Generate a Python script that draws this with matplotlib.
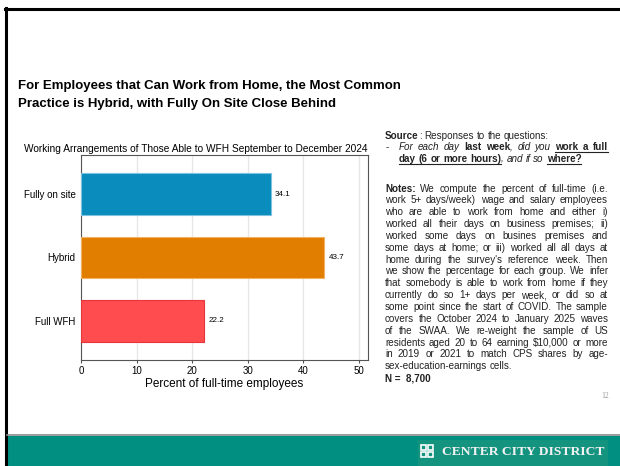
import matplotlib
matplotlib.use("Agg")
import matplotlib.pyplot as plt
from matplotlib.patches import Rectangle
from matplotlib.lines import Line2D

plt.rcParams["font.family"] = ["Liberation Sans", "DejaVu Sans"]

# data
categories = ["Fully on site", "Hybrid", "Full WFH"]
shares = [34.1, 43.7, 22.2]
bar_colors = ["#0A8CBD", "#E17E00", "#FF4D4F"]
edge_colors = ["#7CC3E0", "#F2B266", "#E8353A"]
x_ticks = [0, 10, 20, 30, 40, 50]

title_lines = ["For Employees that Can Work from Home, the Most Common",
               "Practice is Hybrid, with Fully On Site Close Behind"]
chart_title = "Working Arrangements of Those Able to WFH September to December 2024"
x_label = "Percent of full-time employees"

notes_lines = [
    "We compute the percent of full-time (i.e.",
    "work 5+ days/week) wage and salary employees",
    "who are able to work from home and either i)",
    "worked all their days on business premises; ii)",
    "worked some days on busines premises and",
    "some days at home; or iii) worked all all days at",
    "home during the survey's reference week. Then",
    "we show the percentage for each group. We infer",
    "that somebody is able to work from home if they",
    "currently do so 1+ days per week, or did so at",
    "some point since the start of COVID. The sample",
    "covers the October 2024 to January 2025 waves",
    "of the SWAA. We re-weight the sample of US",
    "residents aged 20 to 64 earning \\$10,000 or more",
    "in 2019 or 2021 to match CPS shares by age-",
    "sex-education-earnings cells.",
]

W, H = 620, 466
fig = plt.figure(figsize=(6.2, 4.66), dpi=100)


def fx(px):
    return px / W


def fy(py):
    return 1 - py / H


# slide frame
fig.add_artist(Line2D([fx(5), fx(620)], [fy(9), fy(9)], color="black", lw=2.2))
fig.add_artist(Line2D([fx(6), fx(6)], [fy(8), fy(466)], color="black", lw=2.2))
fig.add_artist(Line2D([fx(7), fx(620)], [fy(435), fy(435)], color="#8a8a8a", lw=1.2))
fig.add_artist(Rectangle((fx(7), 0), 1, fy(436), transform=fig.transFigure,
                         color="#008F80", lw=0))
fig.add_artist(Rectangle((fx(418), 0), fx(190), fy(440), transform=fig.transFigure,
                         color="#14937F", lw=0))
# logo squares
for dx, dy in [(0, 0), (7, 0), (0, 7), (7, 7)]:
    fig.add_artist(Rectangle((fx(421 + dx), fy(457 - dy)), fx(5), 5 / H,
                             transform=fig.transFigure, facecolor="none",
                             edgecolor="white", lw=1.2))
fig.text(fx(442), fy(452), "CENTER CITY DISTRICT", color="#F2F2F2",
         family="Liberation Serif", weight="bold", fontsize=9.7, va="center",
         ha="left")

# main title
fig.text(fx(18), fy(86), title_lines[0], fontsize=9.5, weight="bold", va="center")
fig.text(fx(18), fy(104), title_lines[1], fontsize=9.5, weight="bold", va="center")

# chart
ax = fig.add_axes([fx(81), fy(360), fx(368 - 81), (360 - 155) / H])
ypos = range(len(categories))
ax.barh(ypos, shares, height=0.66, color=bar_colors, edgecolor=edge_colors,
        linewidth=0.8, zorder=3)
for y, v in zip(ypos, shares):
    ax.text(v + 0.8, y, f"{v}", va="center", ha="left", fontsize=5.8)
ax.set_yticks(list(ypos))
ax.set_yticklabels(categories, fontsize=7)
ax.set_ylim(2.62, -0.62)
ax.set_xlim(0, 51.6)
ax.set_xticks(x_ticks)
ax.set_xticklabels([str(t) for t in x_ticks], fontsize=7)
ax.grid(axis="x", color="#e6e6e6", lw=0.9, zorder=0)
ax.tick_params(axis="y", length=0, pad=4)
ax.tick_params(axis="x", length=2.5, pad=2, color="#555555")
for s in ax.spines.values():
    s.set_color("#555555")
    s.set_linewidth(0.8)
ax.set_xlabel(x_label, fontsize=8.5, labelpad=1)
fig.text(fx(196), fy(149), chart_title, fontsize=7.3, ha="center", va="center")

# rich text: words may be built from several styled pieces
fig.canvas.draw()
renderer = fig.canvas.get_renderer()


def draw_line(segments, x0, x1, y, size, justify):
    groups = []
    for text, style in segments:
        tokens = text.split(" ")
        for i, tok in enumerate(tokens):
            if tok == "":
                continue
            if i == 0 and groups:
                groups[-1].append((tok, style))
            else:
                groups.append([(tok, style)])
    arts = []
    for g in groups:
        row = []
        for tok, style in g:
            t = fig.text(0, fy(y), tok, fontsize=size, va="baseline",
                         weight="bold" if "b" in style else "normal",
                         style="italic" if "i" in style else "normal",
                         color="#222222")
            row.append((t, style))
        arts.append(row)
    fig.canvas.draw()
    widths = [[t.get_window_extent(renderer).width for t, _ in row] for row in arts]
    space = size * 100 / 72 * 0.278
    total = sum(sum(w) for w in widths)
    if justify and len(arts) > 1:
        space = (x1 - x0 - total) / (len(arts) - 1)
    x = x0
    prev = ""
    for row, ws in zip(arts, widths):
        for j, ((t, style), w) in enumerate(zip(row, ws)):
            t.set_x(fx(x))
            if "u" in style:
                start = x - space if j == 0 and "u" in prev else x
                fig.add_artist(Line2D([fx(start), fx(x + w)], [fy(y + 1.8), fy(y + 1.8)],
                                      color="#222222", lw=0.8))
            prev = style
            x += w
        x += space


fs = 7.1
draw_line([("Source", "b"), (": Responses to the questions:", "")], 385, 608, 138.5, fs, False)
fig.text(fx(386), fy(150.5), "-", fontsize=fs, va="baseline", color="#222222")
draw_line([("For each day", "i"), (" last week", "b"), (", did you", "i"),
           (" work a full", "bu")], 399, 608, 150.5, fs, True)
draw_line([("day (6 or more hours)", "bu"), (", and if so", "i"),
           (" where?", "bu")], 399, 608, 162, fs, False)

y0, step = 191.5, 11.85
for i, line in enumerate(notes_lines):
    segs = [("Notes:", "b"), (" " + line, "")] if i == 0 else [(line, "")]
    last = i == len(notes_lines) - 1
    draw_line(segs, 385, 608, y0 + i * step, fs, not last)
fig.text(fx(385), fy(y0 + len(notes_lines) * step), "N =  8,700", fontsize=fs,
         weight="bold", va="baseline", color="#222222")
fig.text(fx(609), fy(398), "12", fontsize=5.5, color="#999999", ha="right",
         family="Liberation Serif", va="baseline")

fig.savefig("out.png", dpi=100)
